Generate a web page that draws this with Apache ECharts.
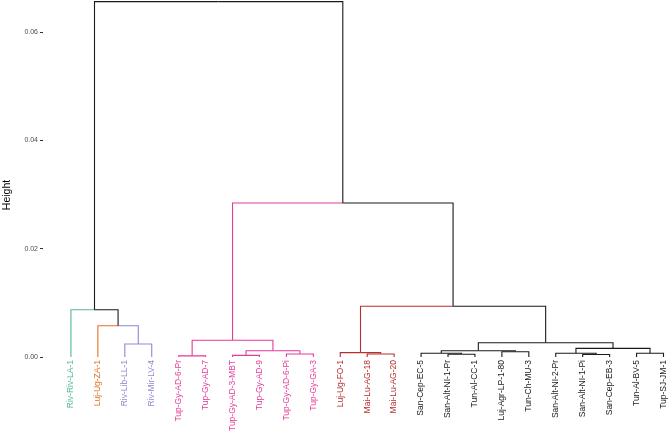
<!DOCTYPE html>
<html>
<head>
<meta charset="utf-8">
<script src="https://cdn.jsdelivr.net/npm/echarts@6/dist/echarts.min.js"></script>
<style>
html,body{margin:0;padding:0;background:#fff;}
#chart{width:668px;height:434px;}
</style>
</head>
<body>
<div id="chart"></div>
<script>
// Leaves in display order
var leaves = ["Riv-Riv-LA-1","Luj-Ug-ZA-1","Riv-Lib-LL-1","Riv-Mir-LV-4",
  "Tup-Gy-AD-6-Pr","Tup-Gy-AD-7","Tup-Gy-AD-3-MBT","Tup-Gy-AD-9","Tup-Gy-AD-6-Pi","Tup-Gy-GA-3",
  "Luj-Ug-FO-1","Mai-Lu-AG-18","Mai-Lu-AG-20",
  "San-Cep-EC-5","San-Alt-NI-1-Pr","Tun-Al-CC-1","Luj-Agr-LP-1-80","Tun-Ch-MU-3",
  "San-Alt-NI-2-Pr","San-Alt-NI-1-Pi","San-Cep-EB-3","Tun-Al-BV-5","Tup-SJ-JM-1"];
// Cluster group of each leaf
var leafGroup = [0,1,2,2,3,3,3,3,3,3,4,4,4,5,5,5,5,5,5,5,5,5,5];
var groupColors = ["#55B795","#E56F22","#8F87D4","#E63A99","#B3302F","#1a1a1a"];
// hclust-style merge list: negative = leaf (1-based), positive = earlier merge step
var mergeLeft  = [-5,-7,-20,-15,-9,-12,-14,-19,-22,-11,-17, 2, 7, 8,-3,13, 1,-2,-1,10,17,19];
var mergeRight = [-6,-8,-21,-16,-10,-13,  4,  3,-23,  6,-18, 5,11, 9,-4,14,12,15,18,16,20,21];
var mergeHeight = [0.0002,0.0003,0.00046,0.0005,0.00055,0.00055,0.00068,0.00068,0.00068,0.0008,0.00098,
  0.00116,0.00116,0.0016,0.0024,0.00264,0.0031,0.00578,0.00873,0.00936,0.02843,0.0656];
var yTicks = [0, 0.02, 0.04, 0.06];

// Build segments from the tree
var nodes = [];
function nodeOf(ref){
  if (ref < 0) { var i = -ref - 1; return {x: i, h: 0, g: leafGroup[i]}; }
  return nodes[ref - 1];
}
var segs = [];
for (var k = 0; k < mergeLeft.length; k++) {
  var a = nodeOf(mergeLeft[k]), b = nodeOf(mergeRight[k]);
  var p = {x: (a.x + b.x) / 2, h: mergeHeight[k], g: (a.g !== null && a.g === b.g) ? a.g : null};
  nodes.push(p);
  [a, b].forEach(function(c){
    segs.push([c.x, c.h, p.x, p.h, c.g === null ? 5 : c.g]);
  });
}
var leafIdx = leaves.map(function(_, i){ return i; });

var chart = echarts.init(document.getElementById('chart'), null, {renderer: 'canvas'});
chart.setOption({
  animation: false,
  backgroundColor: '#ffffff',
  grid: {left: 43, right: 3, top: 0, bottom: 77, containLabel: false},
  xAxis: {
    type: 'value', min: -28 / 27, max: leaves.length - 1,
    axisLine: {show: false, onZero: false}, axisTick: {show: false}, splitLine: {show: false},
    axisLabel: {
      customValues: leafIdx,
      rotate: 90, margin: 3, fontSize: 8.5,
      fontFamily: 'Liberation Sans, Arial, sans-serif',
      formatter: function(v){ return leaves[Math.round(v)]; },
      color: function(v){ return groupColors[leafGroup[Math.round(Number(v))]]; }
    }
  },
  yAxis: {
    type: 'value', min: 0, max: 0.0659, interval: 0.02,
    axisLine: {show: false, onZero: false},
    axisTick: {show: true, length: 3, lineStyle: {color: '#333', width: 1}},
    splitLine: {show: false},
    axisLabel: {
      showMaxLabel: false,
      fontSize: 7, color: '#4d4d4d', margin: 5,
      fontFamily: 'Liberation Sans, Arial, sans-serif',
      formatter: function(v){ return Number(v).toFixed(2); }
    }
  },
  graphic: [{
    type: 'text', x: 7, y: 195, rotation: Math.PI / 2,
    style: {text: 'Height', fontSize: 10.5, fill: '#000',
      fontFamily: 'Liberation Sans, Arial, sans-serif',
      align: 'center', verticalAlign: 'middle'}
  }],
  series: [{
    type: 'custom',
    data: segs,
    encode: {x: [0, 2], y: [1, 3]},
    clip: false,
    renderItem: function(params, api){
      var cx = api.value(0), ch = api.value(1), px = api.value(2), ph = api.value(3);
      var col = groupColors[api.value(4)];
      var p1 = api.coord([cx, ch]), p2 = api.coord([cx, ph]), p3 = api.coord([px, ph]);
      return {
        type: 'polyline',
        shape: {points: [p1, p2, p3]},
        style: {stroke: col, lineWidth: 1.1, fill: null}
      };
    }
  }]
});
</script>
</body>
</html>
